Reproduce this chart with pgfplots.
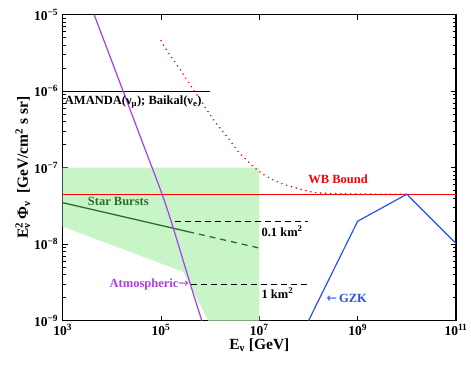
\documentclass[border=0pt]{standalone}
\usepackage{fontspec}
\setmainfont{Liberation Serif}
\usepackage{pgfplots}
\pgfplotsset{compat=1.18}

\definecolor{bandgreen}{RGB}{200,245,200}
\definecolor{sbgreen}{RGB}{45,110,45}
\definecolor{atmpurple}{RGB}{170,60,235}
\definecolor{gzkblue}{RGB}{40,80,240}

\newcommand{\tl}[1]{\textbf{10}\textsuperscript{\textbf{#1}}}

\begin{document}
\begin{tikzpicture}[x=1pt,y=1pt]
  \begin{axis}[
      at={(0,0)}, anchor=south west,
      scale only axis,
      width=393.3pt, height=306pt,
      xmode=log, ymode=log,
      xmin=1e3, xmax=1e11,
      ymin=1e-9, ymax=1e-5,
      xtick={1e3,1e5,1e7,1e9,1e11},
      xticklabels={\tl{3},\tl{5},\tl{7},\tl{9},\tl{11}},
      ytick={1e-9,1e-8,1e-7,1e-6,1e-5},
      yticklabels={\tl{−9},\tl{−8},\tl{−7},\tl{−6},\tl{−5}},
      xminorticks=false,
      tick align=inside,
      major tick length=5pt,
      minor tick length=3pt,
      every tick/.style={black, line width=0.8pt},
      ticklabel style={font=\fontsize{13.5}{15}\selectfont},
      yticklabel style={xshift=-1pt},
      axis line style={line width=1.4pt},
      xlabel={\textbf{E\textsubscript{ν} [GeV]}},
      ylabel={\textbf{E\makebox[0pt][l]{\textsubscript{ν}}\textsuperscript{2}\,Φ\textsubscript{ν}\ \ [GeV/cm\textsuperscript{2} s sr]}},
      label style={font=\fontsize{15.5}{17}\selectfont},
      xlabel style={yshift=4pt},
      ylabel style={yshift=-3pt},
      clip=true,
    ]
    % shaded band
    \addplot[fill=bandgreen, draw=none] coordinates {
      (1e3,1e-7) (1e7,1e-7) (1e7,1e-9) (912011,1e-9) (281838,4.365e-9) (1e3,1.698e-8)
    } -- cycle;

    % AMANDA / Baikal limit
    \addplot[black, line width=1.2pt] coordinates {(1e3,1e-6) (1e6,1e-6)};

    % WB bound
    \addplot[red, line width=1.2pt] coordinates {(1e3,4.5e-8) (1e11,4.5e-8)};

    % red dotted
    \addplot[red, line width=1.7pt, line cap=round, dash pattern=on 0pt off 5pt, smooth] coordinates {
      (1e5,4.57e-6) (1.23e5,3.63e-6) (2.24e5,2.09e-6) (5.01e5,9.55e-7)
      (1.26e6,3.98e-7) (2.51e6,2.29e-7) (3.98e6,1.55e-7) (1e7,8.91e-8)
      (2.63e7,6.31e-8) (9.12e7,5.01e-8) (1.7e8,4.68e-8) (1e9,4.53e-8) (1e10,4.5e-8)
    };

    % star bursts
    \addplot[sbgreen, line width=1.3pt] coordinates {(1e3,3.49e-8) (354813,1.459e-8)};
    \addplot[sbgreen, line width=1.3pt, dash pattern=on 6pt off 5pt] coordinates {(354813,1.459e-8) (1e7,8.91e-9)};

    % sensitivities
    \addplot[black, line width=1.1pt, dash pattern=on 6pt off 4pt] coordinates {(1.9e5,1.97e-8) (9.8e7,1.97e-8)};
    \addplot[black, line width=1.1pt, dash pattern=on 6pt off 4pt] coordinates {(4e5,2.95e-9) (9.8e7,2.95e-9)};

    % atmospheric
    \addplot[atmpurple, line width=1.2pt, smooth] coordinates {
      (4365,1e-5) (16982,1e-6) (39811,2.34e-7) (104713,4.53e-8) (177828,1.62e-8)
      (398107,2.95e-9) (676083,1e-9)
    };

    % GZK
    \addplot[gzkblue, line width=1.2pt] coordinates {
      (1e8,1e-9) (1e9,2e-8) (1e10,4.5e-8) (1e11,1.02e-8)
    };

    \begin{scope}[every node/.style={font=\fontsize{12.5}{14}\selectfont\bfseries, inner sep=1pt}]
      \node[anchor=west] at (axis cs:1.05e3,7.25e-7) {AMANDA(ν\textsubscript{μ}); Baikal(ν\textsubscript{e})};
      \node[sbgreen] at (axis cs:1.35e4,3.67e-8) {Star Bursts};
      \node[red] at (axis cs:4e8,7.1e-8) {WB Bound};
      \node[anchor=west] at (axis cs:1.05e7,1.48e-8) {0.1 km\textsuperscript{2}};
      \node[anchor=west] at (axis cs:1.05e7,2.3e-9) {1 km\textsuperscript{2}};
      \node[gzkblue, anchor=west] at (axis cs:2.2e8,1.95e-9) {{\fontspec{DejaVu Sans}\mdseries ←}\,GZK};
      \node[atmpurple, anchor=east] at (axis cs:3.9e5,2.95e-9) {Atmospheric{\fontspec{DejaVu Sans}\mdseries →}};
    \end{scope}
  \end{axis}
  \pgfresetboundingbox
  \path[use as bounding box] (-62.7,-46.3) rectangle (408.3,320.7);
\end{tikzpicture}
\end{document}
